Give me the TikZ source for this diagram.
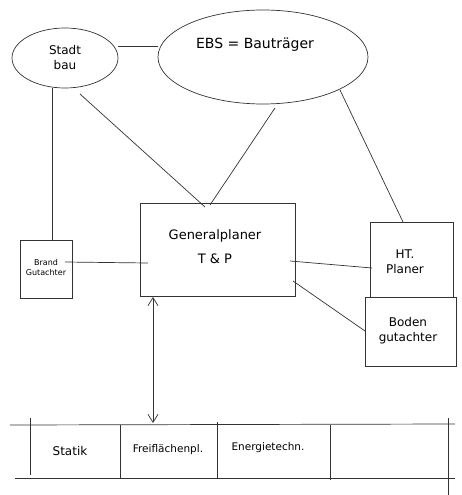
\documentclass[tikz,border=0pt]{standalone}
\usepackage{fontspec}
\setmainfont{DejaVu Sans}
\usetikzlibrary{arrows.meta}
\begin{document}
\begin{tikzpicture}[x=1pt,y=-1pt,
  ln/.style={draw=black!80,line width=0.7pt},
  ell/.style={ln,ellipse,inner sep=0pt},
  lbl/.style={font=\fontsize{12}{15}\selectfont,align=center},
  sm/.style={font=\fontsize{8}{10}\selectfont,align=center}]
\useasboundingbox[fill=white] (0,0) rectangle (462,495);
% ellipses
\draw[ln] (65,58) ellipse [x radius=53,y radius=30];
\node[lbl] (stadt) at (65,58) {Stadt\\bau};
\draw[ln] (263,57) ellipse [x radius=105,y radius=47];
\node[lbl,font=\fontsize{14}{17}\selectfont] (ebs) at (255,45) {EBS = Bauträger};
\coordinate (sR) at (118,46);
\coordinate (eL) at (158,46);
\draw[ln] (sR) -- (eL);
% boxes
\draw[ln] (20,240) rectangle (72,298);
\node[sm] (brand) at (46,268) {Brand\\Gutachter};
\draw[ln] (140,203) rectangle (295,296);
\node[lbl,font=\fontsize{13}{24}\selectfont] (gp) at (215,247) {Generalplaner\\T \& P};
\draw[ln] (370,222) rectangle (453,297);
\node[lbl] (ht) at (405,262) {HT.\\Planer};
\draw[ln] (365,297) rectangle (456,366);
\node[lbl] (boden) at (408,331) {Boden\\gutachter};
% connectors
\coordinate (s1) at (52,88); \coordinate (b1) at (52,240);
\draw[ln] (s1) -- (b1);
\coordinate (s2) at (80,94); \coordinate (g1) at (205,207);
\draw[ln] (s2) -- (g1);
\coordinate (e1) at (275,108); \coordinate (g2) at (210,205);
\draw[ln] (e1) -- (g2);
\coordinate (e2) at (340,90); \coordinate (h1) at (403,222);
\draw[ln] (e2) -- (h1);
\coordinate (b2) at (65,262); \coordinate (g3) at (148,263);
\draw[ln] (b2) -- (g3);
\coordinate (g4) at (290,261); \coordinate (h2) at (372,268);
\draw[ln] (g4) -- (h2);
\coordinate (g5) at (293,281); \coordinate (d1) at (365,331);
\draw[ln] (g5) -- (d1);
\coordinate (a1) at (153,297); \coordinate (a2) at (153,423);
\draw[ln,{Straight Barb[length=8pt,width=10pt]}-{Straight Barb[length=8pt,width=10pt]}] (a1) -- (a2);
% bottom strip
\draw[ln] (10,425) -- (455,424);
\draw[ln] (15,478) -- (455,478);
\draw[ln] (30,418) -- (30,475);
\draw[ln] (120,425) -- (120,478);
\draw[ln] (217,422) -- (217,478);
\draw[ln] (330,425) -- (330,480);
\draw[ln] (448,418) -- (448,495);
\node[lbl] (statik) at (70,451) {Statik};
\node[lbl,font=\fontsize{10.5}{12}\selectfont] (frei) at (168,450) {Freiflächenpl.};
\node[lbl,font=\fontsize{10.5}{12}\selectfont] (energ) at (268,448) {Energietechn.};
\end{tikzpicture}
\end{document}
